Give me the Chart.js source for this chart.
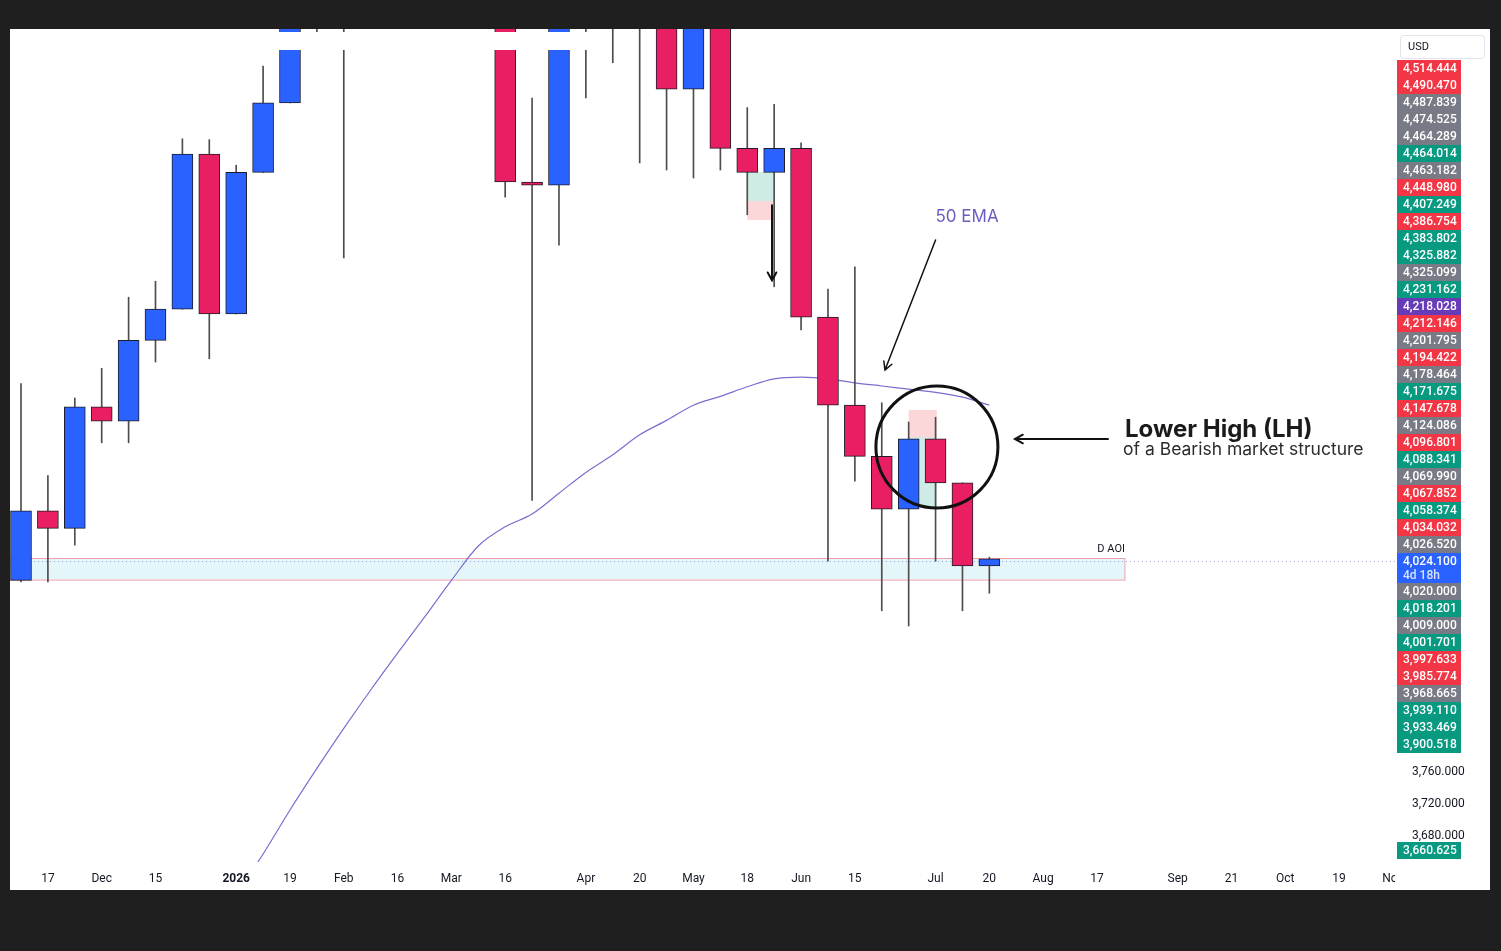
<!DOCTYPE html>
<html>
<head>
<meta charset="utf-8">
<script src="https://cdn.jsdelivr.net/npm/chart.js@4.4.1/dist/chart.umd.min.js"></script>
<style>
    html, body { margin: 0; padding: 0; background: #1f1f1f; width: 1501px; height: 951px; overflow: hidden; }
    #panel { position: absolute; left: 10px; top: 29px; width: 1480px; height: 861px; background: #ffffff; }
</style>
</head>
<body>
<div id="panel"><canvas id="xauWeekly"></canvas></div>
<script>
// weekly candles, Nov 10 2025 -> Jul 20 2026 (index = position on the x axis)
const weeks = ['Nov 10', 'Nov 17', 'Nov 24', 'Dec 1', 'Dec 8', 'Dec 15', 'Dec 22', 'Dec 29', 'Jan 5', 'Jan 12',
    'Jan 19', 'Jan 26', 'Feb 2', 'Feb 9', 'Feb 16', 'Feb 23', 'Mar 2', 'Mar 9', 'Mar 16', 'Mar 23',
    'Mar 30', 'Apr 6', 'Apr 13', 'Apr 20', 'Apr 27', 'May 4', 'May 11', 'May 18', 'May 25', 'Jun 1',
    'Jun 8', 'Jun 15', 'Jun 22', 'Jun 29', 'Jul 6', 'Jul 13', 'Jul 20'];
const openP = [3997, 4084, 4062, 4214, 4196, 4297, 4336, 4530, 4330, 4507,
    4594, 4740, 4790, 4700, 4760, 4820, 4880, 4860, 4780, 4495,
    4491, 4740, 4770, 4800, 4760, 4611, 4720, 4537, 4507, 4537,
    4326, 4216, 4152, 4086, 4174, 4119, 4015];
const highP = [4243, 4128, 4225, 4262, 4351, 4371, 4549, 4548, 4516, 4640,
    4780, 4830, 4850, 4800, 4850, 4900, 4950, 4900, 4820, 4600,
    4780, 4800, 4850, 4860, 4800, 4760, 4750, 4588, 4592, 4544,
    4361, 4389, 4219, 4195, 4201, 4119, 4026];
const lowP = [3995, 3995, 4041, 4169, 4169, 4270, 4336, 4274, 4330, 4507,
    4594, 4670, 4400, 4690, 4700, 4760, 4800, 4720, 4476, 4097,
    4416, 4600, 4644, 4519, 4510, 4500, 4510, 4454, 4364, 4310,
    4021, 4121, 3959, 3940, 4021, 3959, 3981];
const closeP = [4084, 4062, 4214, 4196, 4297, 4336, 4530, 4330, 4507, 4594,
    4740, 4790, 4700, 4760, 4820, 4880, 4860, 4780, 4495, 4491,
    4740, 4770, 4800, 4760, 4611, 4720, 4537, 4507, 4537, 4326,
    4216, 4152, 4086, 4174, 4119, 4015, 4024.1];

// 50 EMA, starting at week index 8 (Jan 5)
const emaStart = 8;
const ema50 = [3604, 3655, 3710, 3762, 3812, 3860, 3906, 3951, 3997, 4040,
    4064, 4080, 4106, 4132, 4154, 4179, 4197, 4216, 4227, 4239,
    4249, 4251, 4249, 4244, 4240, 4236, 4232, 4226, 4216];

// x axis labels (week index -> text)
const tickWeeks = [1, 3, 5, 8, 10, 12, 14, 16, 18, 21, 23, 25, 27, 29, 31, 34, 36, 38, 40, 43, 45, 47, 49, 51];
const tickText = ['17', 'Dec', '15', '2026', '19', 'Feb', '16', 'Mar', '16', 'Apr', '20', 'May', '18', 'Jun',
    '15', 'Jul', '20', 'Aug', '17', 'Sep', '21', 'Oct', '19', 'Nov'];
const yTicks = [3680, 3720, 3760];

// price tags stacked on the right scale
const currentPrice = 4024.1;
const currentCountdown = '4d 18h';
const tagsAbove = [4514.444, 4490.470, 4487.839, 4474.525, 4464.289, 4464.014, 4463.182, 4448.980, 4407.249,
    4386.754, 4383.802, 4325.882, 4325.099, 4231.162, 4218.028, 4212.146, 4201.795, 4194.422, 4178.464,
    4171.675, 4147.678, 4124.086, 4096.801, 4088.341, 4069.990, 4067.852, 4058.374, 4034.032, 4026.520];
const tagsAboveKind = ['r', 'r', 'n', 'n', 'n', 'g', 'n', 'r', 'g',
    'r', 'g', 'g', 'n', 'g', 'p', 'r', 'n', 'r', 'n',
    'g', 'r', 'n', 'r', 'g', 'n', 'r', 'g', 'r', 'n'];
const tagsBelow = [4020.000, 4018.201, 4009.000, 4001.701, 3997.633, 3985.774, 3968.665, 3939.110, 3933.469, 3900.518];
const tagsBelowKind = ['n', 'g', 'n', 'g', 'r', 'r', 'n', 'g', 'g', 'g'];
const looseTag = 3660.625;

// drawings on the chart (in week index / price units)
const aoiZone = { from: -1, to: 41.04, top: 4025, bottom: 3998, label: 'D AOI' };
const coverBand = { from: -1, to: 21.5, top: 4682.5, bottom: 4660 };
const positionBoxes = [
    { from: 27, to: 28, top: 4507.5, bottom: 4471.3, fill: 'rgba(8, 153, 129, 0.2)' },
    { from: 27, to: 28, top: 4471.3, bottom: 4447.5, fill: 'rgba(242, 54, 69, 0.2)' },
    { from: 33, to: 34.05, top: 4210, bottom: 4176, fill: 'rgba(242, 54, 69, 0.2)' },
    { from: 33, to: 34.05, top: 4176, bottom: 4087.5, fill: 'rgba(8, 153, 129, 0.2)' }
];
const arrows = [
    { x1: 27.92, y1: 4466, x2: 27.92, y2: 4372, width: 2 },
    { x1: 34.0, y1: 4422.5, x2: 32.12, y2: 4260, width: 1.5 },
    { x1: 40.41, y1: 4173.75, x2: 36.95, y2: 4173.75, width: 2 }
];
const lhCircle = { x: 34.05, y: 4163.75, r: 61 };

const fontUi = "Roboto, 'DejaVu Sans', sans-serif";
const fontNote = "Inter, 'Open Sans', sans-serif";
const upColor = '#2962ff';
const downColor = '#e91e63';
const tagColors = { r: '#f23645', g: '#089981', n: '#787b86', p: '#673ab7' };
const tagShift = 3; // price scale tags sit a little lower than the raw price pixel

const isUp = (i) => closeP[i] >= openP[i];
const fmt = (v) => v.toLocaleString('en-US', { minimumFractionDigits: 3, maximumFractionDigits: 3 });

function drawArrow(ctx, x1, y1, x2, y2, width) {
    const ang = Math.atan2(y2 - y1, x2 - x1);
    const head = 9;
    ctx.lineWidth = width;
    ctx.beginPath();
    ctx.moveTo(x1, y1);
    ctx.lineTo(x2, y2);
    ctx.moveTo(x2 - head * Math.cos(ang - 0.5), y2 - head * Math.sin(ang - 0.5));
    ctx.lineTo(x2, y2);
    ctx.lineTo(x2 - head * Math.cos(ang + 0.5), y2 - head * Math.sin(ang + 0.5));
    ctx.stroke();
}

const drawingsPlugin = {
    id: 'drawings',
    beforeDatasetsDraw(chart) {
        const { ctx, chartArea: a, scales: { x, y } } = chart;
        ctx.save();
        ctx.beginPath();
        ctx.rect(a.left, a.top, a.right - a.left, a.bottom - a.top);
        ctx.clip();

        // D AOI zone
        const zx1 = x.getPixelForValue(aoiZone.from), zx2 = x.getPixelForValue(aoiZone.to);
        const zy1 = y.getPixelForValue(aoiZone.top), zy2 = y.getPixelForValue(aoiZone.bottom);
        ctx.fillStyle = 'rgba(178, 230, 240, 0.35)';
        ctx.fillRect(zx1, zy1, zx2 - zx1, zy2 - zy1);
        ctx.strokeStyle = '#f2a0a8';
        ctx.lineWidth = 1;
        ctx.strokeRect(zx1, Math.round(zy1) + 0.5, zx2 - zx1, zy2 - zy1);

        // current price line
        const py = Math.round(y.getPixelForValue(currentPrice)) + 2.5;
        ctx.strokeStyle = 'rgba(80, 100, 200, 0.55)';
        ctx.setLineDash([1, 3]);
        ctx.beginPath();
        ctx.moveTo(a.left, py);
        ctx.lineTo(a.right, py);
        ctx.stroke();
        ctx.setLineDash([]);

        // position tool boxes
        positionBoxes.forEach(b => {
            const bx1 = x.getPixelForValue(b.from), bx2 = x.getPixelForValue(b.to);
            const by1 = y.getPixelForValue(b.top), by2 = y.getPixelForValue(b.bottom);
            ctx.fillStyle = b.fill;
            ctx.fillRect(bx1, by1, bx2 - bx1, by2 - by1);
        });
        ctx.restore();
    },
    afterDatasetsDraw(chart) {
        const { ctx, chartArea: a, scales: { x, y } } = chart;
        ctx.save();

        // white strip over the top of the chart
        const cx1 = Math.max(a.left, x.getPixelForValue(coverBand.from));
        const cx2 = x.getPixelForValue(coverBand.to);
        const cy1 = y.getPixelForValue(coverBand.top), cy2 = y.getPixelForValue(coverBand.bottom);
        ctx.fillStyle = '#ffffff';
        ctx.fillRect(cx1, cy1, cx2 - cx1, cy2 - cy1);

        // D AOI label
        ctx.fillStyle = '#131722';
        ctx.font = '11px ' + fontUi;
        ctx.textAlign = 'right';
        ctx.textBaseline = 'middle';
        ctx.fillText(aoiZone.label, x.getPixelForValue(aoiZone.to), y.getPixelForValue(4036));

        // arrows
        ctx.strokeStyle = '#111111';
        ctx.lineCap = 'round';
        arrows.forEach(ar => drawArrow(ctx, x.getPixelForValue(ar.x1), y.getPixelForValue(ar.y1),
            x.getPixelForValue(ar.x2), y.getPixelForValue(ar.y2), ar.width));

        // circle around the lower high
        ctx.lineWidth = 3;
        ctx.beginPath();
        ctx.arc(x.getPixelForValue(lhCircle.x), y.getPixelForValue(lhCircle.y), lhCircle.r, 0, Math.PI * 2);
        ctx.stroke();

        // notes
        ctx.textAlign = 'center';
        ctx.fillStyle = '#6f5bbf';
        ctx.font = '17px ' + fontNote;
        ctx.fillText('50 EMA', x.getPixelForValue(35.17), y.getPixelForValue(4451));

        ctx.textAlign = 'left';
        ctx.fillStyle = '#1b1b1b';
        ctx.font = 'bold 24px ' + fontNote;
        ctx.fillText('Lower High (LH)', x.getPixelForValue(41.04), y.getPixelForValue(4185));
        ctx.fillStyle = '#2b2b2b';
        ctx.font = '17.5px ' + fontNote;
        ctx.fillText('of a Bearish market structure', x.getPixelForValue(40.97), y.getPixelForValue(4160));
        ctx.restore();
    },
    afterDraw(chart) {
        const { ctx, chartArea: a, scales: { y } } = chart;
        ctx.save();

        // hide the part of the time scale under the price scale
        ctx.fillStyle = '#ffffff';
        ctx.fillRect(a.right, a.bottom + 1, chart.width - a.right, chart.height - a.bottom);

        const left = a.right + 2, w = 64, h = 17;
        const tag = (text, cy, color) => {
            ctx.fillStyle = color;
            ctx.fillRect(left, Math.round(cy - h / 2), w, h);
            ctx.fillStyle = '#ffffff';
            ctx.fillText(text, left + 6, cy + 0.5);
        };
        ctx.font = '500 12px ' + fontUi;
        ctx.textAlign = 'left';
        ctx.textBaseline = 'middle';

        const yCur = y.getPixelForValue(currentPrice) + tagShift;
        tagsAbove.forEach((v, i) => tag(fmt(v), yCur - (tagsAbove.length - i) * h, tagColors[tagsAboveKind[i]]));
        tagsBelow.forEach((v, i) => tag(fmt(v), yCur + 30 + i * h, tagColors[tagsBelowKind[i]]));

        // current price + countdown
        ctx.fillStyle = upColor;
        ctx.fillRect(left, Math.round(yCur - 8.5), w, 30);
        ctx.fillStyle = '#ffffff';
        ctx.fillText(fmt(currentPrice), left + 6, yCur);
        ctx.fillStyle = '#d6e2ff';
        ctx.fillText(currentCountdown, left + 6, yCur + 14);

        tag(fmt(looseTag), y.getPixelForValue(looseTag) + 1, tagColors.g);

        // currency box
        ctx.fillStyle = '#ffffff';
        ctx.strokeStyle = '#e0e3eb';
        ctx.lineWidth = 1;
        ctx.beginPath();
        ctx.roundRect(a.right + 5.5, 6.5, 84, 23, 3);
        ctx.fill();
        ctx.stroke();
        ctx.fillStyle = '#131722';
        ctx.font = '11px ' + fontUi;
        ctx.fillText('USD', a.right + 13, 18);
        ctx.restore();
    }
};

const bodyData = weeks.map((w, i) => ({ x: i, y: [openP[i], closeP[i]] }));
const wickData = weeks.map((w, i) => ({ x: i, y: [lowP[i], highP[i]] }));
const emaData = ema50.map((v, k) => ({ x: emaStart + k, y: v }));

const xauCtx = document.getElementById('xauWeekly').getContext('2d');

new Chart(xauCtx, {
    type: 'bar',
    data: {
        datasets: [
            {
                label: 'Body',
                data: bodyData,
                backgroundColor: (c) => isUp(c.dataIndex) ? upColor : downColor,
                borderColor: '#1d1d2b',
                borderWidth: 1,
                borderSkipped: false,
                barThickness: 21,
                grouped: false,
                clip: 0,
                order: 0
            },
            {
                label: 'Wick',
                data: wickData,
                backgroundColor: '#4d4d4d',
                borderWidth: 0,
                barThickness: 1,
                grouped: false,
                clip: 0,
                order: 1
            },
            {
                type: 'line',
                label: '50 EMA',
                data: emaData,
                borderColor: '#7d6ccf',
                borderWidth: 1.2,
                pointRadius: 0,
                cubicInterpolationMode: 'monotone',
                clip: 0,
                order: 2
            }
        ]
    },
    options: {
        responsive: true,
        maintainAspectRatio: false,
        devicePixelRatio: 1,
        animation: false,
        events: [],
        layout: { padding: 0 },
        plugins: {
            legend: { display: false },
            tooltip: { enabled: false }
        },
        scales: {
            x: {
                type: 'linear',
                position: 'bottom',
                min: -0.409,
                max: 51.08,
                offset: false,
                grid: { display: false },
                border: { display: false },
                afterBuildTicks: (scale) => { scale.ticks = tickWeeks.map(v => ({ value: v })); },
                afterFit: (scale) => {
                    scale.height = 28;
                    scale.paddingLeft = 0;
                    scale.paddingRight = 0;
                },
                ticks: {
                    autoSkip: false,
                    maxRotation: 0,
                    padding: 2,
                    color: '#131722',
                    font: (c) => ({ family: fontUi, size: 12, weight: c.tick && c.tick.value === 8 ? 'bold' : 'normal' }),
                    callback: (value) => tickText[tickWeeks.indexOf(value)]
                }
            },
            y: {
                type: 'linear',
                position: 'right',
                min: 3645,
                max: 4686.25,
                grid: { display: false },
                border: { display: false },
                afterBuildTicks: (scale) => { scale.ticks = yTicks.map(v => ({ value: v })); },
                afterFit: (scale) => {
                    scale.width = 95;
                    scale.paddingTop = 0;
                    scale.paddingBottom = 0;
                },
                ticks: {
                    padding: 9,
                    labelOffset: 2,
                    color: '#131722',
                    font: { family: fontUi, size: 12 },
                    callback: (value) => fmt(value)
                }
            }
        }
    },
    plugins: [drawingsPlugin]
});
</script>
</body>
</html>
